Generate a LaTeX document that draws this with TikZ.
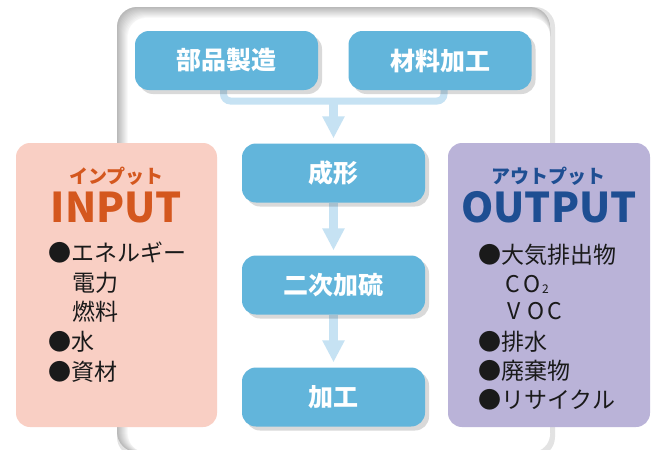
\documentclass[tikz,border=0pt]{standalone}
\usepackage{fontspec}
\setmainfont{Noto Sans CJK JP}
\usetikzlibrary{arrows.meta,shadows,backgrounds}
\definecolor{boxblue}{HTML}{62B5DB}
\definecolor{connblue}{HTML}{C6E2F3}
\definecolor{inpink}{HTML}{F9CFC4}
\definecolor{outpurple}{HTML}{BAB3D8}
\definecolor{inorange}{HTML}{D4571E}
\definecolor{outnavy}{HTML}{1E4E92}
\definecolor{itemtext}{HTML}{1A1A1A}
\begin{document}
\begin{tikzpicture}[x=1pt,y=-1pt,
  procbox/.style={fill=boxblue, rounded corners=14pt, minimum width=183pt, minimum height=59pt, inner sep=0pt, text=white, font=\bfseries\fontsize{25}{25}\selectfont, drop shadow={shadow xshift=4pt, shadow yshift=-4pt, fill=black, opacity=0.15}},
  sidebox/.style={rounded corners=14pt, minimum width=201pt, minimum height=284pt, inner sep=0pt},
  conn/.style={draw=connblue, line width=7pt},
  arr/.style={draw=connblue, line width=9pt, -{Triangle[width=21pt,length=22pt]}, shorten >=5pt},
  item/.style={anchor=base west, inner sep=0pt, text=itemtext, font=\fontsize{23}{23}\selectfont},
  kana/.style={anchor=base, inner sep=0pt, font=\bfseries\fontsize{19}{19}\selectfont},
  bigtitle/.style={anchor=base, inner sep=0pt, font=\bfseries\fontsize{41}{41}\selectfont},
]
\useasboundingbox (0,0) rectangle (657,450);
\clip (0,0) rectangle (657,450);

% process boxes
\node[procbox] (b1) at (226.5,60.5) {部品製造};
\node[procbox] (b2) at (440,60.5) {材料加工};
\node[procbox] (p1) at (333.5,173) {成形};
\node[procbox] (p2) at (333.5,285) {二次加硫};
\node[procbox] (p3) at (333.5,397) {加工};
\coordinate (j) at (333.5,101);

\begin{scope}[on background layer]
  % outer frame with inner shadow
  \fill[gray!22, rounded corners=20pt] (117,7) rectangle (555,457);
  \foreach \i in {0,...,10} {
    \pgfmathtruncatemacro\g{55-5*\i}
    \fill[gray!\g, rounded corners=20pt] (117+\i,7+\i) rectangle (550,452);
  }
  \fill[white, rounded corners=18pt] (128,18) rectangle (550,452);
  % connectors
  \draw[conn, rounded corners=7pt] ([xshift=-3pt]b1.south) |- (j) -| ([xshift=4pt]b2.south);
  \draw[arr] (j) -- (p1.north);
  \draw[arr] (p1.south) -- (p2.north);
  \draw[arr] (p2.south) -- (p3.north);
\end{scope}

% input box
\node[sidebox, fill=inpink] (inbox) at (116.5,285) {};
\node[kana, text=inorange] (inkana) at (116.5,183) {インプット};
\node[bigtitle, text=inorange] (intitle) at (116.5,222) {INPUT};
\node[item] (i1) at (48,261) {●エネルギー};
\node[item] (i2) at (72,291) {電力};
\node[item] (i3) at (72,320) {燃料};
\node[item] (i4) at (48,350) {●水};
\node[item] (i5) at (48,380) {●資材};

% output box
\node[sidebox, fill=outpurple, minimum width=202pt] (outbox) at (549,285) {};
\node[kana, text=outnavy] (outkana) at (548,183) {アウトプット};
\node[bigtitle, text=outnavy] (outtitle) at (549,222) {OUTPUT};
\node[item] (o1) at (478,263) {●大気排出物};
\node[item] (o2) at (505,292) {\makebox[18pt][l]{C}\makebox[19pt][l]{O}\raisebox{-1.5pt}{\fontsize{12}{12}\selectfont 2}};
\node[item] (o3) at (505,319) {\hspace{2pt}\makebox[20pt][l]{V}\makebox[20pt][l]{O}C};
\node[item] (o4) at (478,350) {●排水};
\node[item] (o5) at (478,379) {●廃棄物};
\node[item] (o6) at (478,408) {●リサイクル};
\end{tikzpicture}
\end{document}
